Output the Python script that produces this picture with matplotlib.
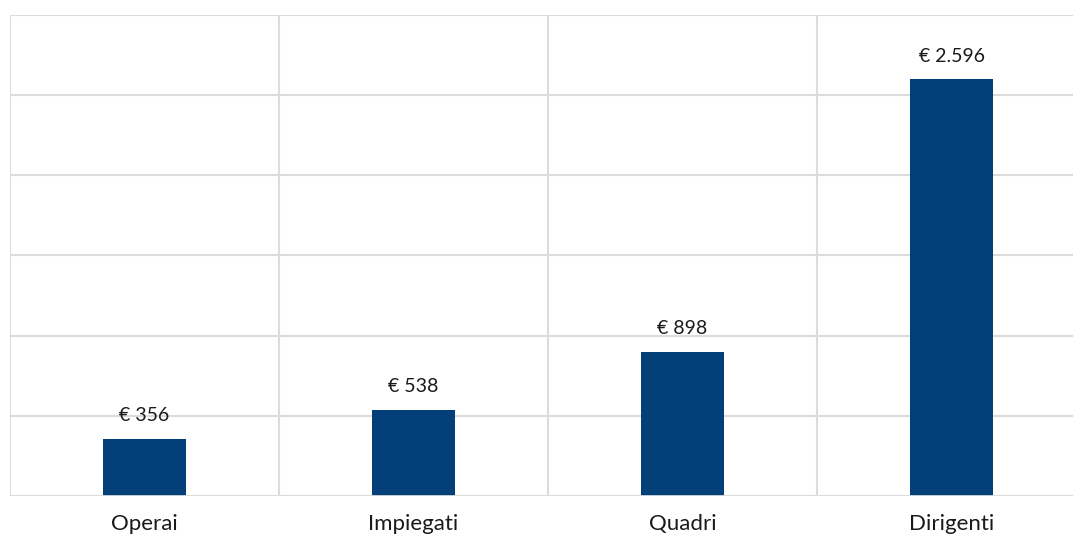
import matplotlib.pyplot as plt
import numpy as np

categories = ["Operai", "Impiegati", "Quadri", "Dirigenti"]
values = [356, 538, 898, 2596]
value_labels = ["€ 356", "€ 538", "€ 898", "€ 2.596"]

BAR_COLOR = "#033f78"
GRID_COLOR = "#dcdcdc"
TEXT_COLOR = "#1a1a1a"

plt.rcParams["font.family"] = ["Lato", "DejaVu Sans"]

fig = plt.figure(figsize=(10.73, 5.34), dpi=100)
W, H = 1073, 534
# axes spans x 10..1086 (runs past the right edge), y 14.5..496
ax = fig.add_axes([10 / W, (H - 496) / H, 1076 / W, 481.5 / H])

x = np.arange(len(categories))
ax.bar(x, values, width=0.312, color=BAR_COLOR, zorder=3)

ax.set_xlim(-0.5, len(categories) - 0.5)
ax.set_ylim(0, 3000)
ax.set_yticks(np.arange(0, 3001, 500))
ax.set_yticklabels([])
ax.tick_params(axis="y", length=0)

# vertical separators between categories
for b in np.arange(-0.5, len(categories), 1.0):
    ax.axvline(b, color=GRID_COLOR, lw=1.5, zorder=1)
ax.grid(axis="y", color=GRID_COLOR, lw=1.5, zorder=1)
for s in ax.spines.values():
    s.set_visible(False)
ax.axhline(0, color=GRID_COLOR, lw=2, zorder=4)

ax.set_xticks(x)
ax.set_xticklabels(categories, fontsize=16, color=TEXT_COLOR)
ax.tick_params(axis="x", length=0, pad=13)

for xi, v, lab in zip(x, values, value_labels):
    ax.annotate(lab, (xi, v), xytext=(0, 23), textcoords="offset pixels",
                ha="center", va="center", fontsize=14, color=TEXT_COLOR)

fig.savefig("out.png", dpi=100)
